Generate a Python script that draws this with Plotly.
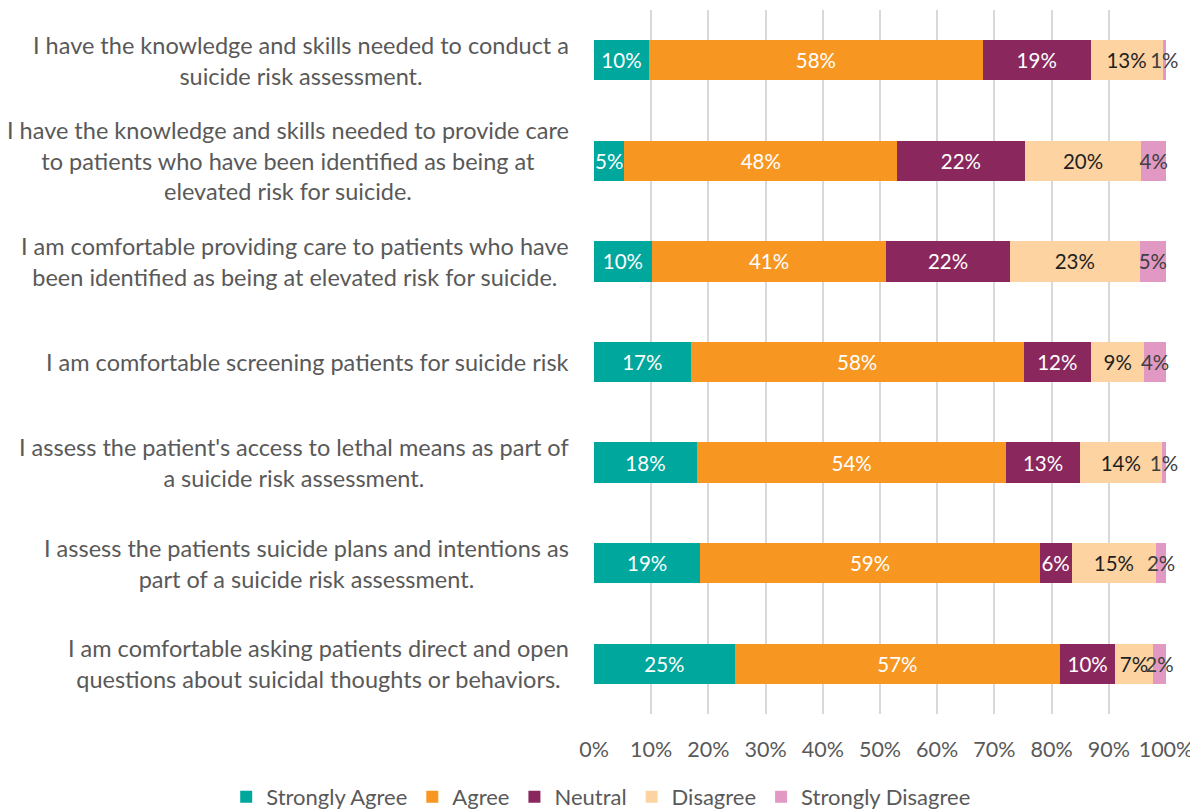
import plotly.graph_objects as go

categories = [
    "I have the knowledge and skills needed to conduct a<br>suicide risk assessment.",
    "I have the knowledge and skills needed to provide care<br>to patients who have been identified as being at<br>elevated risk for suicide.",
    "I am comfortable providing care to patients who have<br>been identified as being at elevated risk for suicide.",
    "I am comfortable screening patients for suicide risk",
    "I assess the patient's access to lethal means as part of<br>a suicide risk assessment.",
    "I assess the patients suicide plans and intentions as<br>part of a suicide risk assessment.",
    "I am comfortable asking patients direct and open<br>questions about suicidal thoughts or behaviors.",
]
strongly_agree = [9.6, 5.3, 10.1, 16.9, 18.0, 18.6, 24.6]
agree = [58.4, 47.7, 41.0, 58.2, 54.1, 59.3, 56.9]
neutral = [18.8, 22.3, 21.6, 11.8, 12.8, 5.6, 9.6]
disagree = [12.6, 20.4, 22.7, 9.3, 14.4, 14.8, 6.6]
strongly_disagree = [0.6, 4.3, 4.6, 3.8, 0.7, 1.7, 2.3]

series = [
    ("Strongly Agree", strongly_agree, "#00A79D", "white"),
    ("Agree", agree, "#F79722", "white"),
    ("Neutral", neutral, "#8A285E", "white"),
    ("Disagree", disagree, "#FCD3A1", "#1f1f1f"),
    ("Strongly Disagree", strongly_disagree, "#E198C2", "#404040"),
]

FONT = "Lato, 'Open Sans', sans-serif"

fig = go.Figure()
for name, vals, color, tcolor in series:
    fig.add_trace(go.Bar(
        y=categories, x=[v / 100 for v in vals], name=name, orientation="h",
        marker=dict(color=color, line=dict(width=0)),
        text=[f"{round(v):.0f}%" for v in vals],
        textposition="inside", insidetextanchor="middle", constraintext="none",
        textangle=0,
        textfont=dict(color=tcolor, size=20.5, family=FONT),
        cliponaxis=False,
    ))

for c in categories:
    fig.add_annotation(
        xref="paper", yref="y", x=0, y=c, xanchor="right", xshift=-23,
        text=c, showarrow=False, align="center",
        font=dict(size=23.5, color="#595959", family=FONT),
    )

fig.update_layout(
    barmode="stack", bargap=0.6,
    width=1190, height=804,
    margin=dict(l=586, r=32, t=2, b=98, autoexpand=False),
    paper_bgcolor="white", plot_bgcolor="white",
    font=dict(family=FONT, color="#595959"),
    legend=dict(orientation="h", x=-0.643, xanchor="left", y=-0.118, yanchor="middle",
                font=dict(size=22, color="#595959", family=FONT),
                traceorder="normal", itemwidth=30, bgcolor="rgba(0,0,0,0)"),
    uniformtext=dict(mode=False),
)
fig.update_xaxes(range=[0, 1], tickformat=".0%", dtick=0.1, showgrid=True,
                 gridcolor="#D9D9D9", gridwidth=1.5, zeroline=False,
                 tickfont=dict(size=21.5, color="#595959", family=FONT),
                 ticks="", ticklabelstandoff=20, showline=False)
fig.update_yaxes(categoryorder="array", categoryarray=categories, autorange="reversed",
                 showticklabels=False, showgrid=False, zeroline=False, showline=False)

fig.write_html("out.html")
